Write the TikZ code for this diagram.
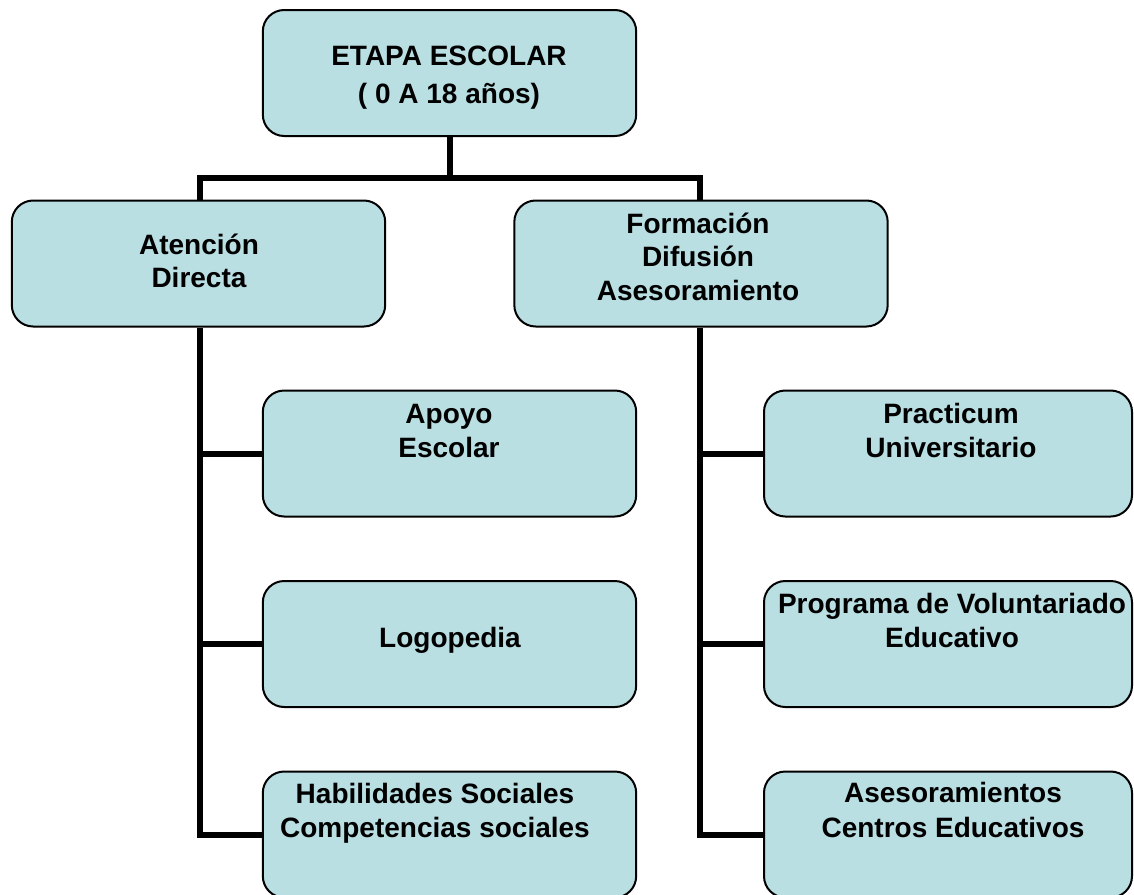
\documentclass[tikz,border=0pt]{standalone}
\usepackage{fontspec}
\setmainfont{Liberation Sans}
\definecolor{boxfill}{HTML}{B9DFE3}
\begin{document}
\begin{tikzpicture}[x=0.75pt,y=-0.75pt,
  box/.style={draw=black, line width=1.5pt, fill=boxfill, rounded corners=16pt,
    minimum width=280pt, minimum height=94.5pt, inner sep=0pt, outer sep=0.75pt},
  wbox/.style={box, minimum width=276pt},
  conn/.style={line width=4.5pt, line join=miter, draw=black},
  txt/.style={font=\bfseries\fontsize{21}{25.5}\selectfont, align=center, anchor=base, inner sep=0pt}]
\useasboundingbox (0,0) rectangle (1134,894);
% boxes
\node[box] (top)  at (449.5,73)    {};
\node[box] (at)   at (198.5,263.5) {};
\node[box] (fo)   at (701,263.5)   {};
\node[box] (apo)  at (449.5,453.5) {};
\node[box] (logo) at (449.5,644)   {};
\node[box] (hab)  at (449.5,834.5) {};
\node[wbox] (pra)  at (948,453.5)  {};
\node[wbox] (prog) at (948,644)    {};
\node[wbox] (ases) at (948,834.5)  {};
% texts (base anchor = baseline of last line)
\node[txt, font=\bfseries\fontsize{21}{28.5}\selectfont] (ttop) at (449,103) {ETAPA ESCOLAR\\( 0 A 18 años)};
\node[txt, font=\bfseries\fontsize{21}{24.75}\selectfont] (tat) at (199,287) {Atención\\Directa};
\node[txt, font=\bfseries\fontsize{21}{25}\selectfont] (tfo) at (698,300) {Formación\\Difusión\\Asesoramiento};
\node[txt] (tapo) at (449,457) {Apoyo\\Escolar};
\node[txt] (tlogo) at (450,647) {Logopedia};
\node[txt] (thab) at (435,837) {Habilidades Sociales\\Competencias sociales};
\node[txt] (tpra) at (951,457) {Practicum\\Universitario};
\node[txt] (tprog) at (952,647) {Programa de Voluntariado\\Educativo};
\node[txt, font=\bfseries\fontsize{21}{26}\selectfont] (tases) at (953,837) {Asesoramientos\\Centros Educativos};
% connectors
\coordinate (bl) at (200,178);
\coordinate (br) at (700,178);
\draw[conn] (top.south) -- (top.south |- bl);
\draw[conn] (at.north -| bl) -- (bl) -- (br) -- (fo.north -| br);
\draw[conn] (at.south -| bl) -- (bl |- hab.west) -- (hab.west);
\draw[conn] (bl |- apo.west) -- (apo.west);
\draw[conn] (bl |- logo.west) -- (logo.west);
\draw[conn] (fo.south -| br) -- (br |- ases.west) -- (ases.west);
\draw[conn] (br |- pra.west) -- (pra.west);
\draw[conn] (br |- prog.west) -- (prog.west);
\end{tikzpicture}
\end{document}
